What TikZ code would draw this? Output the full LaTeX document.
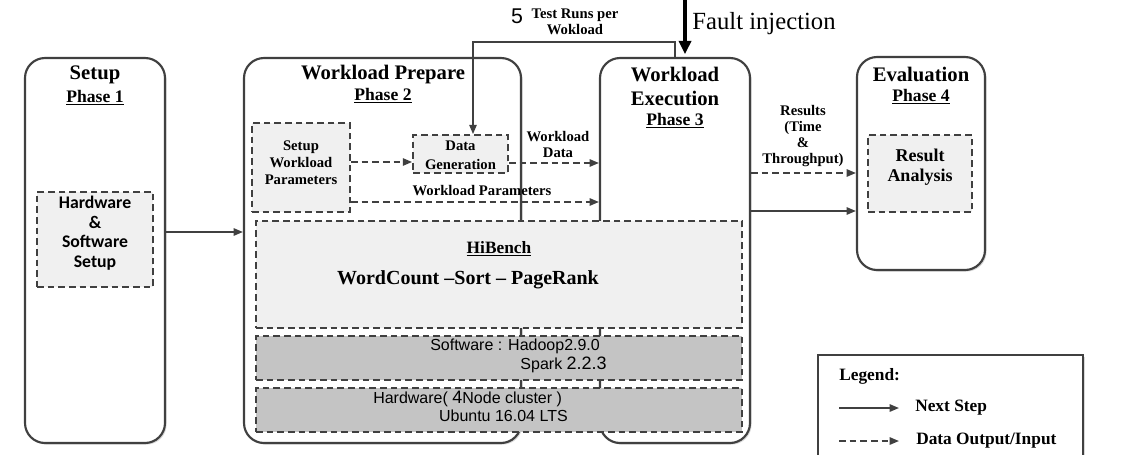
\documentclass[tikz,border=0pt]{standalone}
\usepackage{fontspec}
\setmainfont{Liberation Serif}
\newfontfamily\arialfont{Liberation Sans}
\newfontfamily\calfont{Carlito}
\usetikzlibrary{fit,arrows.meta,shadows}
\definecolor{lc}{HTML}{404040}
\definecolor{lightfill}{HTML}{F0F0F0}
\definecolor{darkfill}{HTML}{C4C4C4}
\begin{document}
\begin{tikzpicture}[x=0.75pt,y=-0.75pt,
 phasebox/.style={draw=lc, line width=1.6pt, rounded corners=15pt, fill=white, inner sep=0pt,
   drop shadow={shadow xshift=1.2pt, shadow yshift=-1.2pt, opacity=0.3}},
 dbox/.style={draw=lc, line width=1.3pt, dash pattern=on 5pt off 3pt, fill=lightfill, inner sep=0pt, align=center},
 gbox/.style={dbox, fill=darkfill},
 ttl/.style={font=\fontsize{15.5}{18}\selectfont\bfseries, align=center, inner sep=0pt},
 phs/.style={font=\fontsize{13.2}{15}\selectfont\bfseries, inner sep=0pt},
 lbl/.style={font=\fontsize{11}{12}\selectfont\bfseries, align=center, inner sep=0pt},
 sans/.style={font=\fontsize{12}{14}\selectfont\arialfont, inner sep=0pt},
 leg/.style={font=\fontsize{13}{15}\selectfont\bfseries, anchor=west, inner sep=0pt},
 conn/.style={draw=lc, line width=1.3pt, -{Triangle[length=7pt,width=5.5pt]}},
 dconn/.style={conn, dash pattern=on 5pt off 3pt},
]
\useasboundingbox (0,0) rectangle (1127,454);

% phase boxes
\node[phasebox, fit={(25,58) (165,443)}] (setup) {};
\node[phasebox, fit={(244,58) (521,443)}] (prep) {};
\node[phasebox, fit={(600,58) (750,443)}] (exec) {};
\node[phasebox, fit={(857,57) (985,270)}] (eval) {};

% titles
\node[ttl] (t1) at (95,75) {Setup};
\node[phs] (p1) at (95,98) {\underline{Phase 1}};
\node[ttl] (t2) at (383,75) {Workload Prepare};
\node[phs] (p2) at (383,96) {\underline{Phase 2}};
\node[ttl] (t3) at (675,86) {Workload\\Execution};
\node[phs] (p3) at (675,121) {\underline{Phase 3}};
\node[ttl] (t4) at (921,74) {Evaluation};
\node[phs] (p4) at (921,97) {\underline{Phase 4}};

% inner boxes
\node[dbox, fit={(37,192) (153,287)}, font=\fontsize{13.3}{14.6}\selectfont\calfont\bfseries] (hw) {Hardware\\\&\\Software\\Setup};
\node[dbox, fit={(252,123) (350,212)}, font=\fontsize{11}{13}\selectfont\bfseries] (swp) {Setup\\Workload\\Parameters};
\node[dbox, fit={(413,135) (508,173)}] (dg) {};
\node[lbl, font=\fontsize{11}{14.2}\selectfont\bfseries] (dgt) at (460.5,155) {Data\\Generation};
\node[dbox, fit={(868,135) (972,212)}, font=\fontsize{13.5}{14.5}\selectfont\bfseries] (ra) {Result\\Analysis};
\node[dbox, fit={(256,221) (742,328)}] (hib) {};
\node[gbox, fit={(256,336) (742,380)}] (sw) {};
\node[gbox, fit={(256,388) (742,432)}] (hwb) {};

% texts in stack boxes
\node[font=\fontsize{13}{15}\selectfont\bfseries, inner sep=0pt] (hbt) at (499,249) {\underline{HiBench}};
\node[font=\fontsize{15}{18}\selectfont\bfseries, inner sep=0pt] (wl) at (468,280) {WordCount –Sort – PageRank};
\node[sans, anchor=west] (swt1) at (430,346) {Software : Hadoop2.9.0};
\node[sans, anchor=east] (swt2) at (607,365) {Spark {\fontsize{13.5}{15}\selectfont 2.2.3}};
\node[sans, anchor=west] (hwt1) at (373,399) {Hardware( {\fontsize{13.5}{15}\selectfont 4}Node cluster )};
\node[sans, anchor=east] (hwt2) at (568,416) {Ubuntu 16.04 LTS};

% labels
\node[lbl] (wd) at (558,144) {Workload\\Data};
\node[lbl] (wp) at (482,191) {Workload Parameters};
\node[lbl] (res) at (803,136) {Results\\(Time\\\&\\Throughput)};
\node[lbl] (trp) at (575,22) {Test Runs per\\Wokload};
\node[font=\fontsize{16}{18}\selectfont\arialfont, inner sep=0pt] (five) at (517,16) {5};
\node[font=\fontsize{18.5}{20}\selectfont, inner sep=0pt] (fit) at (764,24) {Fault injection};

% connectors
\draw[conn] (setup.east |- 0,232) -- (prep.west |- 0,232);
\draw[dconn] (swp.east |- 0,162) -- (dg.west |- 0,162);
\draw[dconn] (swp.east |- 0,202) -- (exec.west |- 0,202);
\draw[dconn] (dg.east |- 0,163) -- (exec.west |- 0,163);
\coordinate (fb) at (473,42);
\draw[conn] (exec.north) |- (fb) -- (fb |- dg.north);
\coordinate (fitop) at (685,0);
\draw[draw=black, line width=2.6pt, -{Triangle[length=10pt,width=9pt]}, shorten >=2pt] (fitop) -- (fitop |- exec.north);
\draw[dconn] (exec.east |- 0,173) -- (eval.west |- 0,173);
\draw[conn] (exec.east |- 0,211) -- (eval.west |- 0,211);

% legend
\node[draw=lc, line width=1.3pt, fill=white, inner sep=0pt, fit={(818,355) (1083,470)},
  drop shadow={shadow xshift=1.2pt, shadow yshift=-1.2pt, opacity=0.3}] (legbox) {};
\node[leg] (legt) at (839,376) {Legend:};
\coordinate (l1a) at (839,408);
\coordinate (l1b) at (899,408);
\draw[conn] (l1a) -- (l1b);
\node[leg] (ns) at (915,408) {Next Step};
\coordinate (l2a) at (839,441);
\coordinate (l2b) at (899,441);
\draw[dconn] (l2a) -- (l2b);
\node[leg] (dio) at (916,441) {Data Output/Input};
\end{tikzpicture}
\end{document}
